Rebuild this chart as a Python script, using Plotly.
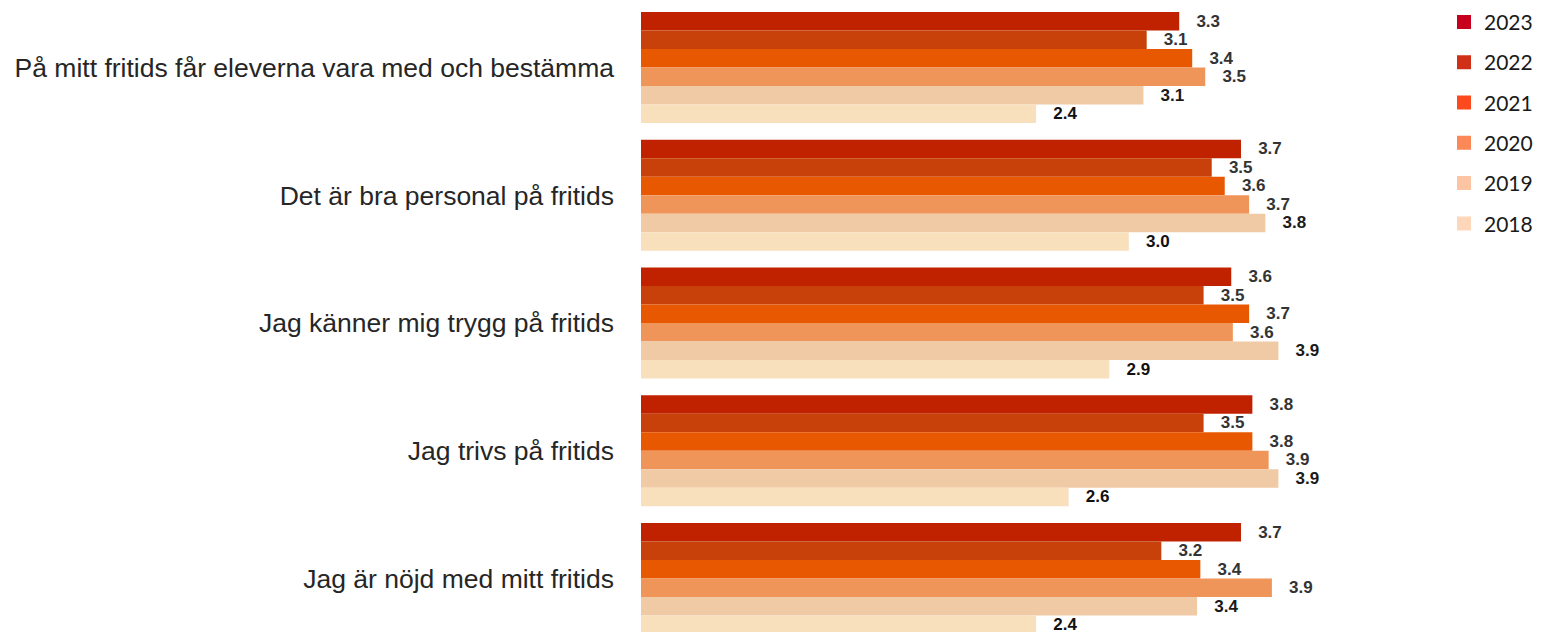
import plotly.graph_objects as go

categories = [
    "På mitt fritids får eleverna vara med och bestämma",
    "Det är bra personal på fritids",
    "Jag känner mig trygg på fritids",
    "Jag trivs på fritids",
    "Jag är nöjd med mitt fritids",
]
years = ["2023", "2022", "2021", "2020", "2019", "2018"]

v2023 = [3.31, 3.69, 3.63, 3.76, 3.69]
v2022 = [3.11, 3.51, 3.46, 3.46, 3.20]
v2021 = [3.39, 3.59, 3.74, 3.76, 3.44]
v2020 = [3.47, 3.74, 3.64, 3.86, 3.88]
v2019 = [3.09, 3.84, 3.92, 3.92, 3.42]
v2018 = [2.43, 3.00, 2.88, 2.63, 2.43]
series = [v2023, v2022, v2021, v2020, v2019, v2018]

bar_colors = ["#c02200", "#c8400a", "#e85800", "#f0955a", "#f0caa5", "#f8e0bd"]
legend_colors = ["#c8001e", "#d03018", "#fc4a1e", "#fc8858", "#fdc4a4", "#fed7ba"]
label_colors = ["#333333", "#333333", "#333333", "#333333", "#1a1a1a", "#111111"]

fig = go.Figure()
for yr, vals, c, lc in zip(years, series, bar_colors, label_colors):
    fig.add_trace(go.Bar(
        y=categories, x=vals, orientation="h", name=yr,
        marker=dict(color=c, line=dict(width=0)),
        texttemplate="\u00a0\u00a0\u00a0%{x:.1f}", textposition="outside",
        textfont=dict(family="Liberation Sans, Arial", size=17, color=lc, weight="bold"),
        constraintext="none", cliponaxis=False, showlegend=False,
        hoverinfo="skip",
    ))

for yr, c in zip(years, legend_colors):
    fig.add_trace(go.Scatter(
        x=[None], y=[None], mode="markers", name=yr, legendgroup=yr,
        marker=dict(symbol="square", size=14, color=c),
    ))

fig.update_layout(
    width=1534, height=624,
    margin=dict(l=633, r=88, t=0, b=0, autoexpand=False),
    plot_bgcolor="white", paper_bgcolor="white",
    barmode="group", bargap=0.131, bargroupgap=0,
    showlegend=True,
    legend=dict(x=0.9877, xanchor="left", y=1.010, yanchor="top",
                font=dict(family="Lato, Carlito, sans-serif", size=21, color="#1a1a1a"),
                tracegroupgap=10, traceorder="grouped", itemwidth=30,
                bgcolor="rgba(0,0,0,0)"),
    xaxis=dict(range=[0, 5], showgrid=False, showticklabels=False,
               zeroline=False, showline=False, fixedrange=True),
    yaxis=dict(type="category", categoryorder="array", categoryarray=categories,
               range=[4.419, -0.4656], showgrid=False, zeroline=False, showline=False,
               ticks="", ticklabelstandoff=26,
               tickfont=dict(family="Liberation Sans, Arial", size=26.5, color="#262626")),
)

fig.write_html("out.html")
